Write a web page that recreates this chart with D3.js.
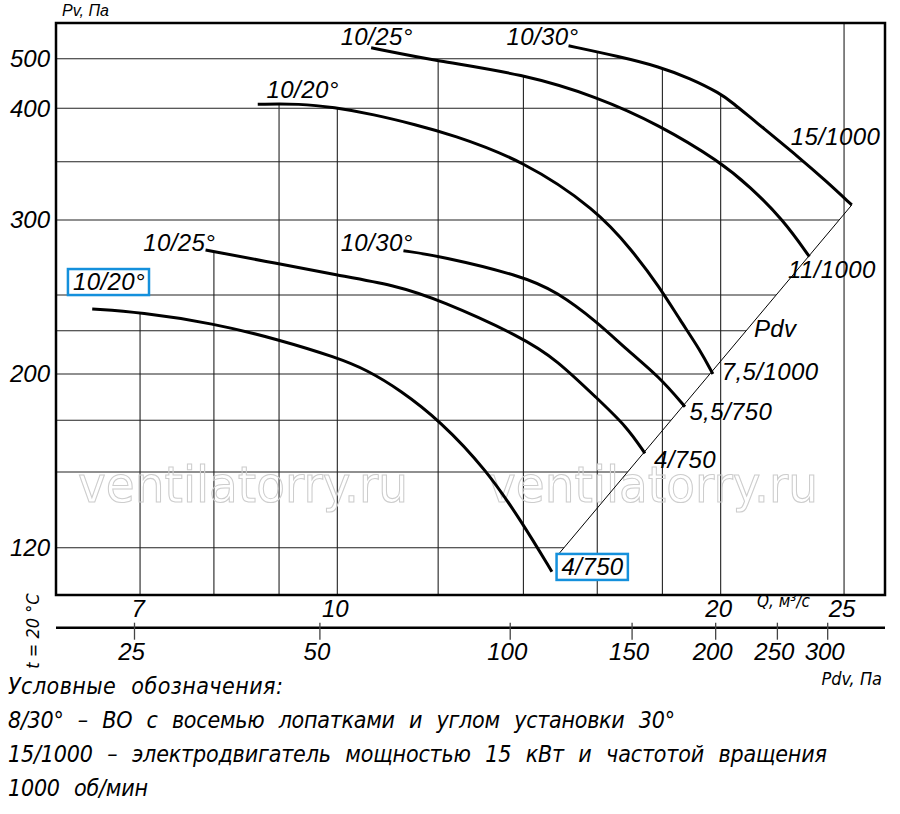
<!DOCTYPE html>
<html>
<head>
<meta charset="utf-8">
<script src="https://cdn.jsdelivr.net/npm/d3@7"></script>
<style>
  html, body { margin: 0; padding: 0; background: #fff; }
  svg { display: block; }
  text { font-family: "Liberation Sans", Arial, sans-serif; font-style: italic; fill: #000; }
  .narrow { font-family: "Liberation Sans Narrow", "DejaVu Sans Condensed", sans-serif; }
  .wm { font-family: "DejaVu Sans", sans-serif; font-style: normal; fill: none; stroke: #cdcdcd; stroke-width: 1.1px; }
</style>
</head>
<body>
<svg id="chart" width="900" height="814"></svg>
<script>
// =========================
// DATA
// =========================
const qTicks = [7, 10, 20, 25];
const qGrid = [7, 8, 9, 10, 12, 14, 16, 18, 20, 25];

const pvTicks = [120, 200, 300, 400, 500];
const pvGrid = [120, 150, 175, 200, 225, 250, 300, 350, 400, 500];

const pdvTicks = [25, 50, 100, 150, 200, 250, 300];
// Q value under each Pdv tick on the lower scale
const pdvAtQ = [6.93, 9.69, 13.67, 17.04, 19.82, 22.16, 24.27];

// curves: [Q, Pv]
const curve1020Low = [[6.42, 240.2], [7.0, 237.9], [7.99, 230.2], [8.98, 220.0], [10.0, 209.4], [10.55, 202.3],
  [11.2, 191.4], [12.04, 174.8], [13.1, 151.0], [13.98, 129.7], [14.74, 110.5]];
const curve1025Low = [[7.88, 280], [8.96, 271.1], [9.99, 263.3], [11.07, 256.7], [12.04, 246.5], [13.97, 221.2],
  [14.87, 208.1], [15.99, 186.9], [16.88, 171.9], [17.44, 159.0]];
const curve1030Low = [[11.27, 279.5], [12.04, 276.0], [13.97, 262.7], [14.87, 252.2], [15.99, 231.3],
  [16.88, 213.9], [17.9, 198.5], [18.75, 182.3]];
const curve1020High = [[8.66, 408.1], [9.35, 409.3], [9.93, 402.0], [10.67, 394.4], [11.54, 384.4], [12.26, 375.9],
  [13.98, 351.6], [15.99, 308.6], [17.03, 280], [17.9, 255.5], [18.58, 232.5], [19.27, 213.9], [19.72, 200]];
const curve1025High = [[10.63, 522], [11.97, 495.4], [13.98, 469.2], [15.99, 423.4], [17.9, 384.4], [19.98, 350],
  [21.09, 328.6], [22.4, 300], [23.48, 275.5]];
const curve1030High = [[15.19, 526], [16.67, 504], [17.9, 483.9], [18.92, 460.5], [19.98, 430.2], [20.45, 410.7],
  [21.22, 389.0], [23.09, 353.2], [24.23, 332.8], [25.35, 312.9]];

// Pdv line through the curve ends
const pdvLine = [[14.9, 117.1], [25.35, 312.9]];

// labels: text, Q, Pv (left baseline), boxed
const curveLabels = [
  { text: "10/25°", q: 10.06, p: 527.6 },
  { text: "10/30°", q: 13.58, p: 527.6 },
  { text: "10/20°", q: 8.80, p: 420.2 },
  { text: "10/25°", q: 7.04, p: 279.5 },
  { text: "10/30°", q: 10.06, p: 279.5 },
  { text: "10/20°", q: 6.20, p: 253.3, boxed: true },
  { text: "15/1000", q: 22.70, p: 365.6 },
  { text: "11/1000", q: 22.59, p: 261.3 },
  { text: "Pdv", q: 21.24, p: 221.5 },
  { text: "7,5/1000", q: 20.04, p: 196.8 },
  { text: "5,5/750", q: 18.90, p: 175.2 },
  { text: "4/750", q: 17.73, p: 151.8 },
  { text: "4/750", q: 15.00, p: 109.2, boxed: true }
];

const legendLines = [
  "Условные обозначения:",
  "8/30° – ВО с восемью лопатками и углом установки 30°",
  "15/1000 – электродвигатель мощностью 15 кВт и частотой вращения",
  "1000 об/мин"
];

// =========================
// LAYOUT
// =========================
const margin = { top: 23, left: 56 };
const plotW = 829;
const plotH = 572;

// the Pv scale of the nomogram is not uniform: one stop per grid line
const pvGridPos = [0.9173, 0.7850, 0.6946, 0.6136, 0.5379, 0.4755, 0.3444, 0.2425, 0.1491, 0.0624];

const x = d3.scaleLog().domain([6.013, 26.92]).range([0, plotW]);
const y = d3.scaleLinear().domain(pvGrid).range(pvGridPos.map(f => f * plotH));

const svg = d3.select("#chart");
const defs = svg.append("defs");
const g = svg.append("g").attr("transform", `translate(${margin.left},${margin.top})`);

const smooth = d3.curveBasis;
const line = d3.line().x(d => x(d[0])).y(d => y(d[1])).curve(smooth);
const area = d3.area().x(d => x(d[0])).y0(plotH).y1(d => y(d[1])).curve(smooth);

const curves = [curve1020Low, curve1025Low, curve1030Low, curve1020High, curve1025High, curve1030High];

// =========================
// CLIPS (grid stops at curves / Pdv line)
// =========================
defs.append("clipPath").attr("id", "clipV")
  .selectAll("path").data(curves).join("path")
  .attr("d", d => area(d));

const dTop = [x(pdvLine[1][0]), y(pdvLine[1][1])];
const dBot = [x(pdvLine[0][0]), y(pdvLine[0][1])];
const outer = curve1030High;
defs.append("clipPath").attr("id", "clipH")
  .append("path")
  .attr("d", line(outer) +
    `L${dBot[0]},${dBot[1]}L${dBot[0]},${plotH}L0,${plotH}L0,0L${x(outer[0][0])},0Z`);

// =========================
// GRID
// =========================
g.append("g").attr("clip-path", "url(#clipH)")
  .selectAll("line").data(pvGrid).join("line")
  .attr("x1", 0).attr("x2", plotW)
  .attr("y1", d => y(d)).attr("y2", d => y(d))
  .attr("stroke", "#222").attr("stroke-width", 1.1);

// 25 runs full height, the rest stop under the curves
g.append("g").attr("clip-path", "url(#clipV)")
  .selectAll("line").data(qGrid.filter(q => q !== 25)).join("line")
  .attr("x1", d => x(d)).attr("x2", d => x(d))
  .attr("y1", 0).attr("y2", plotH)
  .attr("stroke", "#222").attr("stroke-width", 1.1);

g.append("line")
  .attr("x1", x(25)).attr("x2", x(25)).attr("y1", 0).attr("y2", plotH)
  .attr("stroke", "#666").attr("stroke-width", 1.6);

// =========================
// WATERMARK
// =========================
g.selectAll(".wm").data([22, 432]).join("text")
  .attr("class", "wm")
  .attr("x", d => d).attr("y", 478.7)
  .attr("font-size", 50)
  .attr("textLength", 330).attr("lengthAdjust", "spacingAndGlyphs")
  .text("ventilatorry.ru");

// =========================
// CURVES
// =========================
g.append("line")
  .attr("x1", dTop[0]).attr("y1", dTop[1])
  .attr("x2", dBot[0]).attr("y2", dBot[1])
  .attr("stroke", "#000").attr("stroke-width", 1);

g.selectAll(".curve").data(curves).join("path")
  .attr("class", "curve")
  .attr("d", line)
  .attr("fill", "none").attr("stroke", "#000").attr("stroke-width", 3);

// =========================
// LABELS
// =========================
const lab = g.selectAll(".lab").data(curveLabels).join("g").attr("class", "lab");
lab.append("text")
  .attr("x", d => x(d.q)).attr("y", d => y(d.p))
  .attr("font-size", 24)
  .style("letter-spacing", "0.4px")
  .text(d => d.text);

lab.filter(d => d.boxed).each(function () {
  const t = d3.select(this).select("text");
  const b = t.node().getBBox();
  d3.select(this).insert("rect", "text")
    .attr("x", b.x - 5).attr("y", b.y + 1)
    .attr("width", b.width + 9).attr("height", b.height - 1)
    .attr("fill", "#fff").attr("stroke", "#1490dc").attr("stroke-width", 2.5);
});

// =========================
// FRAME + AXES
// =========================
g.append("rect")
  .attr("width", plotW).attr("height", plotH)
  .attr("fill", "none").attr("stroke", "#000").attr("stroke-width", 2.5);

g.selectAll(".ytick").data(pvTicks).join("text")
  .attr("class", "ytick")
  .attr("x", -6).attr("y", d => y(d)).attr("dy", "0.35em")
  .attr("text-anchor", "end").attr("font-size", 24)
  .text(d => d);

g.append("text").attr("x", 6).attr("y", -7).attr("font-size", 16).text("Pv, Па");

g.selectAll(".qtick").data(qTicks).join("text")
  .attr("class", "qtick")
  .attr("x", d => x(d)).attr("dx", -2).attr("y", plotH + 22)
  .attr("text-anchor", "middle").attr("font-size", 24)
  .text(d => d);

g.append("text").attr("class", "narrow")
  .attr("x", 701).attr("y", plotH + 12).attr("font-size", 17)
  .text("Q, м³/с");

const pdvAxis = g.append("g").attr("transform", `translate(0,${plotH + 32.7})`);
pdvAxis.append("line").attr("x1", 0).attr("x2", plotW)
  .attr("stroke", "#000").attr("stroke-width", 2.6);
pdvAxis.selectAll(".pt").data(pdvTicks).join("line")
  .attr("class", "pt")
  .attr("x1", (d, i) => x(pdvAtQ[i])).attr("x2", (d, i) => x(pdvAtQ[i]))
  .attr("y1", -5).attr("y2", 12)
  .attr("stroke", "#444").attr("stroke-width", 1.3);
pdvAxis.selectAll(".pl").data(pdvTicks).join("text")
  .attr("class", "pl")
  .attr("x", (d, i) => x(pdvAtQ[i])).attr("dx", -3).attr("y", 32.5)
  .attr("text-anchor", "middle").attr("font-size", 24)
  .text(d => d);

g.append("text").attr("class", "narrow")
  .attr("x", plotW - 3).attr("y", plotH + 90).attr("text-anchor", "end").attr("font-size", 18)
  .text("Pdv, Па");

svg.append("text").attr("class", "narrow")
  .attr("transform", "translate(39,631) rotate(-90)")
  .attr("text-anchor", "middle").attr("font-size", 18)
  .text("t = 20 °C");

// =========================
// LEGEND
// =========================
const legendWidths = [275, 667, 819, 140];
svg.selectAll(".leg").data(legendLines).join("text")
  .attr("class", "leg narrow")
  .attr("x", 8).attr("y", (d, i) => 694 + i * 34)
  .attr("font-size", 23)
  .style("word-spacing", "8px")
  .attr("textLength", (d, i) => legendWidths[i])
  .attr("lengthAdjust", "spacing")
  .text(d => d);
</script>
</body>
</html>
